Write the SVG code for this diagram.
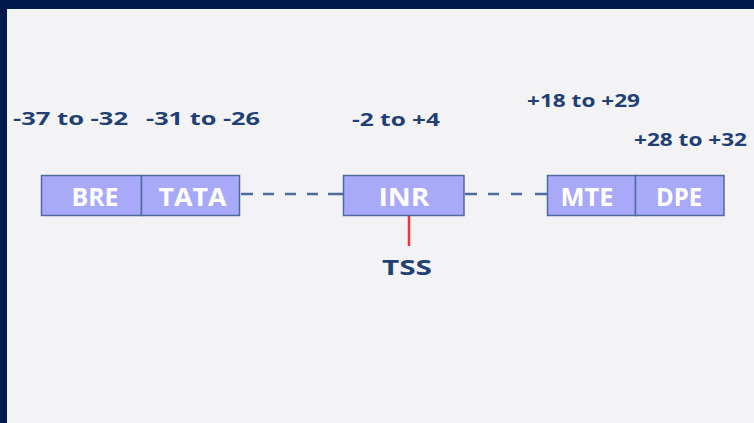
<svg xmlns="http://www.w3.org/2000/svg" width="754" height="423" viewBox="0 0 754 423">
  <style>
    .box { fill: #a9a9f9; stroke: #4d6b9c; stroke-width: 1.5; }
    .name { font-family: "Open Sans", "Liberation Sans", sans-serif; font-weight: bold; font-size: 25px; fill: #ffffff; text-anchor: middle; }
    .pos { font-family: "Open Sans", "Liberation Sans", sans-serif; font-weight: bold; font-size: 17px; fill: #213f74; }
    .dash { stroke: #4d6b9c; stroke-width: 2.5; fill: none; }
  </style>

  <!-- frame and paper -->
  <rect x="0" y="0" width="754" height="423" fill="#001a4d"/>
  <rect x="7" y="9" width="747" height="414" fill="#f3f3f5"/>

  <!-- position labels -->
  <g id="labels">
    <text class="pos" x="13" y="125" textLength="115" lengthAdjust="spacingAndGlyphs">-37 to -32</text>
    <text class="pos" x="146" y="125" textLength="114" lengthAdjust="spacingAndGlyphs">-31 to -26</text>
    <text class="pos" x="352" y="126" textLength="88" lengthAdjust="spacingAndGlyphs">-2 to +4</text>
    <text class="pos" x="527" y="107" textLength="113" lengthAdjust="spacingAndGlyphs">+18 to +29</text>
    <text class="pos" x="634" y="146" textLength="113" lengthAdjust="spacingAndGlyphs">+28 to +32</text>
  </g>

  <!-- connectors -->
  <g id="connectors">
    <path class="dash" d="M241 194H253M263 194H274M285 194H296M307 194H318M328 194H343"/>
    <path class="dash" d="M465 194H477M488 194H499M511 194H522M535 194H547"/>
    <line x1="409" y1="216" x2="409" y2="246" stroke="#e8383a" stroke-width="2.5"/>
  </g>

  <g id="BRE">
    <rect class="box" x="41.5" y="175.5" width="100" height="40"/>
    <text class="name" x="95" y="206" textLength="47" lengthAdjust="spacingAndGlyphs">BRE</text>
  </g>
  <g id="TATA">
    <rect class="box" x="141.5" y="175.5" width="98" height="40"/>
    <text class="name" x="192.5" y="206" textLength="68" lengthAdjust="spacingAndGlyphs">TATA</text>
  </g>
  <g id="INR">
    <rect class="box" x="343.5" y="175.5" width="120.5" height="40"/>
    <text class="name" x="404" y="206" textLength="51" lengthAdjust="spacingAndGlyphs">INR</text>
  </g>
  <g id="MTE">
    <rect class="box" x="547.5" y="175.5" width="88" height="40"/>
    <text class="name" x="587" y="206" textLength="53" lengthAdjust="spacingAndGlyphs">MTE</text>
  </g>
  <g id="DPE">
    <rect class="box" x="635.5" y="175.5" width="88.5" height="40"/>
    <text class="name" x="679" y="206" textLength="46" lengthAdjust="spacingAndGlyphs">DPE</text>
  </g>

  <g id="TSS">
    <text x="407" y="275" font-family="'Open Sans', 'Liberation Sans', sans-serif" font-weight="bold" font-size="22" fill="#213f74" text-anchor="middle" textLength="50" lengthAdjust="spacingAndGlyphs">TSS</text>
  </g>
</svg>
